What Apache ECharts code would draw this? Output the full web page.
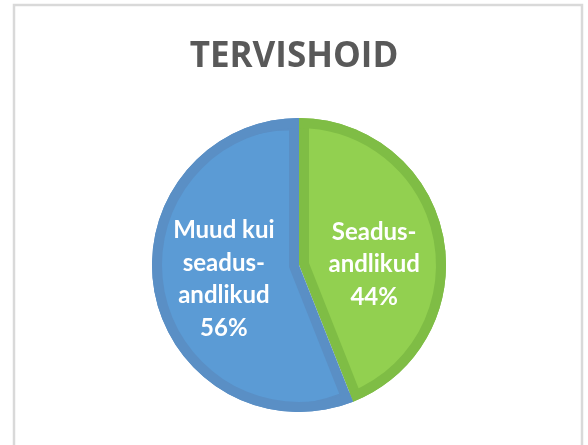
<!DOCTYPE html>
<html>
<head>
<meta charset="utf-8">
<script src="https://cdn.jsdelivr.net/npm/echarts@6/dist/echarts.min.js"></script>
<style>
  html, body { margin: 0; padding: 0; background: #ffffff; }
  #chart { width: 588px; height: 445px; }
</style>
</head>
<body>
<div id="chart"></div>
<script>
// ---- data ----
const titleText = 'TERVISHOID';
const categories = ['Seadus-\nandlikud', 'Muud kui\nseadus-\nandlikud'];
const values = [44, 56];

// ---- styles ----
const lightColors = ['#92d050', '#5b9bd5'];
const darkColors = ['#7fbd45', '#5a8fc5'];
const CX = 299, CY = 265, R = 147, BORDER = 10;

// offsets for inset slices (computed from the data's angles)
const total = values.reduce((a, b) => a + b, 0);
let acc = 0;
const insetCenters = values.map(v => {
  const a0 = acc / total * 2 * Math.PI;
  acc += v;
  const a1 = acc / total * 2 * Math.PI;
  const half = (a1 - a0) / 2;
  const mid = a0 + half; // clockwise from top
  const shift = BORDER / Math.sin(half);
  return [CX + Math.sin(mid) * shift, CY - Math.cos(mid) * shift];
});

function pieData(colorFn) {
  return categories.map((c, i) => ({ name: c, value: values[i], itemStyle: { color: colorFn(i) } }));
}

const common = {
  type: 'pie',
  startAngle: 90,
  clockwise: true,
  silent: true,
  animation: false,
  label: { show: false },
  labelLine: { show: false },
  emphasis: { disabled: true }
};

const series = [];
// base dark full pie
series.push(Object.assign({}, common, {
  z: 1, center: [CX, CY], radius: [0, R],
  data: pieData(i => darkColors[i])
}));
// inset light slices
values.forEach((v, k) => {
  series.push(Object.assign({}, common, {
    z: 2, center: insetCenters[k], radius: [0, R - BORDER - 0.5],
    data: pieData(i => i === k ? lightColors[i] : 'rgba(0,0,0,0)')
  }));
});
// outer dark ring
series.push(Object.assign({}, common, {
  z: 3, center: [CX, CY], radius: [R - BORDER, R],
  data: pieData(i => darkColors[i])
}));
// labels
series.push(Object.assign({}, common, {
  z: 4, center: [CX, CY], radius: [0, R],
  data: categories.map((c, i) => ({
    name: c, value: values[i],
    itemStyle: { color: 'rgba(0,0,0,0)' }
  })),
  label: {
    show: true,
    position: 'inside',
    formatter: function (p) {
      const txt = p.name + '\n' + p.percent + '%';
      return p.dataIndex === 0 ? '{g| }\n' + txt : txt;
    },
    color: '#ffffff',
    fontFamily: 'Lato',
    fontWeight: 'bold',
    fontSize: 24,
    lineHeight: 32.5,
    align: 'center',
    rich: { g: { fontSize: 8, lineHeight: 28 } }
  }
}));

const chart = echarts.init(document.getElementById('chart'), null, { renderer: 'canvas' });
chart.setOption({
  backgroundColor: '#ffffff',
  animation: false,
  title: {
    text: titleText,
    left: 'center',
    top: 35,
    textStyle: {
      fontFamily: 'Open Sans',
      fontWeight: 'bold',
      fontSize: 35,
      color: '#595959'
    }
  },
  graphic: [{
    type: 'rect',
    z: 0,
    shape: { x: 14, y: 5, width: 568, height: 470 },
    style: { fill: 'none', stroke: '#d9d9d9', lineWidth: 2.5 }
  }],
  series: series
});
</script>
</body>
</html>
